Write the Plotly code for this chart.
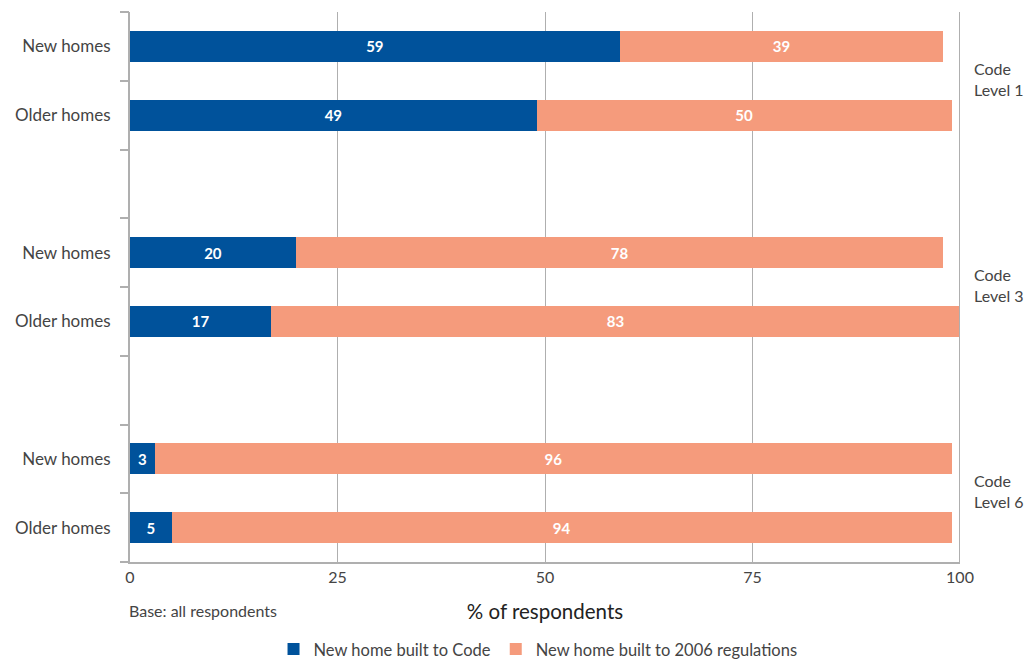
import plotly.graph_objects as go

# Survey responses by home type and Code level (% of respondents)
row_labels = ["New homes", "Older homes", "", "New homes", "Older homes", "", "New homes", "Older homes"]
built_to_code = [59, 49, None, 20, 17, None, 3, 5]
built_to_2006 = [39, 50, None, 78, 83, None, 96, 94]
level_labels = ["Code<br>Level 1", "Code<br>Level 3", "Code<br>Level 6"]
x_ticks = [0, 25, 50, 75, 100]

BLUE = "#00529B"
SALMON = "#F59B7C"
GRID = "#AFAFAF"
TEXT = "#444444"
FONT = "Lato, 'Open Sans', sans-serif"

rows = list(range(len(row_labels)))

fig = go.Figure()
fig.add_trace(go.Bar(
    y=rows, x=built_to_code, orientation="h", name="New home built to Code",
    marker=dict(color=BLUE, line=dict(width=0)),
    text=built_to_code, textposition="inside", insidetextanchor="middle",
    textfont=dict(color="white", size=15, family=FONT, weight="bold"),
))
fig.add_trace(go.Bar(
    y=rows, x=built_to_2006, orientation="h", name="New home built to 2006 regulations",
    marker=dict(color=SALMON, line=dict(width=0)),
    text=built_to_2006, textposition="inside", insidetextanchor="middle",
    textfont=dict(color="white", size=15, family=FONT, weight="bold"),
))

# boundary tick marks between rows on an overlaid axis
fig.add_trace(go.Scatter(x=[None], y=[None], yaxis="y2", showlegend=False, hoverinfo="skip"))

yrange = [len(rows) - 0.5, -0.5]
fig.update_layout(
    barmode="stack",
    bargap=0.55,
    width=1034, height=664,
    margin=dict(l=130, r=74, t=12, b=102, autoexpand=False),
    paper_bgcolor="white", plot_bgcolor="white",
    font=dict(family=FONT, color=TEXT, size=17),
    xaxis=dict(
        range=[0, 100], tickvals=x_ticks, showgrid=True, gridcolor=GRID, gridwidth=1,
        zeroline=False, showline=True, linecolor=GRID, linewidth=2,
        ticks="", tickfont=dict(size=16, color=TEXT), automargin=False,
        title=dict(text="% of respondents", font=dict(size=20.5, color="#222222"), standoff=19),
    ),
    yaxis=dict(
        range=yrange, tickvals=[r for r in rows if row_labels[r]],
        ticktext=[row_labels[r] for r in rows if row_labels[r]],
        ticks="", showgrid=False, zeroline=False, showline=True, linecolor=GRID, linewidth=2,
        tickfont=dict(size=17, color=TEXT), ticklabelstandoff=14, automargin=False,
    ),
    yaxis2=dict(
        overlaying="y", side="left", range=yrange,
        tickvals=[r - 0.5 for r in rows] + [len(rows) - 0.5],
        ticks="outside", ticklen=9, tickcolor=GRID, tickwidth=1.5,
        showticklabels=False, showgrid=False, zeroline=False, showline=False,
        automargin=False,
    ),
    legend=dict(
        orientation="h", x=0.4916, xanchor="center", xref="paper",
        y=0.022, yanchor="middle", yref="container",
        font=dict(size=16.5, color=TEXT), traceorder="normal", itemwidth=30,
    ),
    showlegend=True,
)

# right-hand border at 100%
fig.add_shape(type="line", xref="x", yref="paper", x0=100, x1=100, y0=0, y1=1,
              line=dict(color=GRID, width=2))

# Code level group labels on the right
for i, lab in enumerate(level_labels):
    fig.add_annotation(
        x=1.0, xref="paper", xanchor="left", xshift=12,
        y=3 * i + 0.5, yref="y", yanchor="middle", yshift=2,
        text=lab, showarrow=False, align="left",
        font=dict(size=16, color=TEXT),
    )

fig.add_annotation(
    x=0, xref="paper", xanchor="left", xshift=-3, y=-0.088, yref="paper", yanchor="middle",
    text="Base: all respondents", showarrow=False, font=dict(size=16, color=TEXT),
)

fig.write_html("out.html")
